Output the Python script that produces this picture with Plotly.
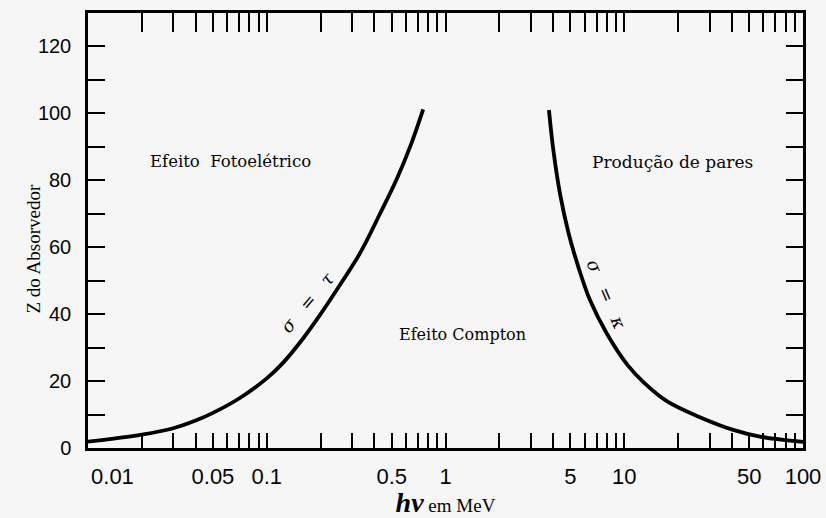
import math
import plotly.graph_objects as go

# --- data ---
# boundary sigma = tau (photoelectric = Compton)
hv_tau = [0.01, 0.02, 0.03, 0.04, 0.05, 0.07, 0.1, 0.124, 0.16, 0.2, 0.246, 0.333, 0.43, 0.533, 0.64, 0.75]
z_tau = [1.9, 4.0, 5.9, 8.2, 10.5, 14.8, 20.8, 25.6, 32.8, 40.0, 47.2, 58.3, 70.0, 80.3, 90.6, 101.2]

# boundary sigma = kappa (Compton = pair production)
hv_kappa = [3.79, 4.01, 4.37, 4.87, 5.53, 6.43, 7.97, 10.5, 12.8, 17.3, 26.5, 40.7, 57.4, 100]
z_kappa = [101, 89.1, 76.0, 64.4, 54.2, 44.2, 34.3, 24.6, 19.7, 14.0, 9.2, 5.4, 3.4, 1.8]

x_labelled = [0.01, 0.05, 0.1, 0.5, 1, 5, 10, 50, 100]
x_label_text = ["0.01", "0.05", "0.1", "0.5", "1", "5", "10", "50", "100"]
y_labelled = [0, 20, 40, 60, 80, 100, 120]

# x ticks: every 1..9 within each decade
decades = [0.01, 0.1, 1, 10]
x_tickvals = []
for d in decades:
    for m in range(1, 10):
        x_tickvals.append(round(d * m, 6))
x_tickvals.append(100)
x_ticktext = []
for v in x_tickvals:
    lab = ""
    for xv, xt in zip(x_labelled, x_label_text):
        if abs(v - xv) < 1e-9:
            lab = xt
    if lab == "0.01":
        lab = "\u00a0" * 8 + lab
    x_ticktext.append(lab)

y_tickvals = list(range(0, 130, 10))
y_ticktext = [str(v) if v in y_labelled else "" for v in y_tickvals]

fig = go.Figure()
fig.add_trace(go.Scatter(x=hv_tau, y=z_tau, mode="lines",
                         line=dict(color="black", width=3.8, shape="spline", smoothing=1.0),
                         hoverinfo="skip", showlegend=False))
fig.add_trace(go.Scatter(x=hv_kappa, y=z_kappa, mode="lines", xaxis="x2",
                         line=dict(color="black", width=3.8, shape="spline", smoothing=1.0),
                         hoverinfo="skip", showlegend=False))

serif = "DejaVu Serif"
ink = "#050505"
ann = []
def lx(v):
    return math.log10(v)

ann.append(dict(x=lx(0.063), y=85.5, text="Efeito  Fotoelétrico", showarrow=False,
                font=dict(family=serif, size=16.5, color=ink)))
ann.append(dict(x=lx(18.5), y=85.5, text="Produção de pares", showarrow=False,
                font=dict(family=serif, size=17, color=ink)))
ann.append(dict(x=lx(1.25), y=33.8, text="Efeito Compton", showarrow=False,
                font=dict(family=serif, size=16, color=ink)))
ann.append(dict(x=lx(0.168), y=43.5, text="<i>σ\u00a0\u00a0\u00a0=\u00a0\u00a0\u00a0τ</i>", showarrow=False,
                textangle=-50, font=dict(family=serif, size=18, color=ink)))
ann.append(dict(x=lx(8.0), y=46, text="<i>σ\u00a0\u00a0\u00a0=\u00a0\u00a0\u00a0κ</i>", showarrow=False,
                textangle=67, font=dict(family=serif, size=18, color=ink)))
ann.append(dict(xref="paper", yref="paper", x=0, y=(448 - 249) / 435, xshift=-68,
                text="Z do Absorvedor", textangle=-90, showarrow=False,
                font=dict(family="Liberation Serif", size=19, color=ink)))

title_txt = ("<span style=\"font-family:'Liberation Serif';font-size:28px\"><b><i>hν</i></b></span>"
             " em MeV")

fig.update_layout(
    width=826, height=518,
    margin=dict(l=88, r=23, t=13, b=70),
    paper_bgcolor="#f6f6f6", plot_bgcolor="#f6f6f6",
    annotations=ann,
    xaxis=dict(type="log", range=[-2, 2], tickmode="array",
               tickvals=x_tickvals, ticktext=x_ticktext,
               ticks="inside", ticklen=15, tickwidth=1.6, tickcolor="black",
               showline=True, linewidth=2.5, linecolor="black", mirror=True,
               showgrid=False, zeroline=False, ticklabelstandoff=7, automargin=False,
               tickfont=dict(family="Liberation Sans", size=22, color=ink),
               title=dict(text=title_txt, standoff=9,
                          font=dict(family="Liberation Serif", size=19, color=ink))),
    xaxis2=dict(type="log", range=[-2, 2], matches="x", overlaying="x", side="top",
                tickmode="array", tickvals=x_tickvals, showticklabels=False,
                ticks="inside", ticklen=19, tickwidth=1.6, tickcolor="black",
                showline=False, showgrid=False, zeroline=False, automargin=False),
    yaxis=dict(range=[0, 130], tickmode="array",
               tickvals=y_tickvals, ticktext=y_ticktext,
               ticks="inside", ticklen=17, tickwidth=2.2, tickcolor="black",
               showline=True, linewidth=2.5, linecolor="black", mirror="ticks",
               showgrid=False, zeroline=False, ticklabelstandoff=10, automargin=False,
               tickfont=dict(family="Liberation Sans", size=20, color=ink)),
)

fig.write_html("out.html", config={"displayModeBar": False},
               post_script="document.body.style.margin='0';document.body.style.background='#f6f6f6';")
